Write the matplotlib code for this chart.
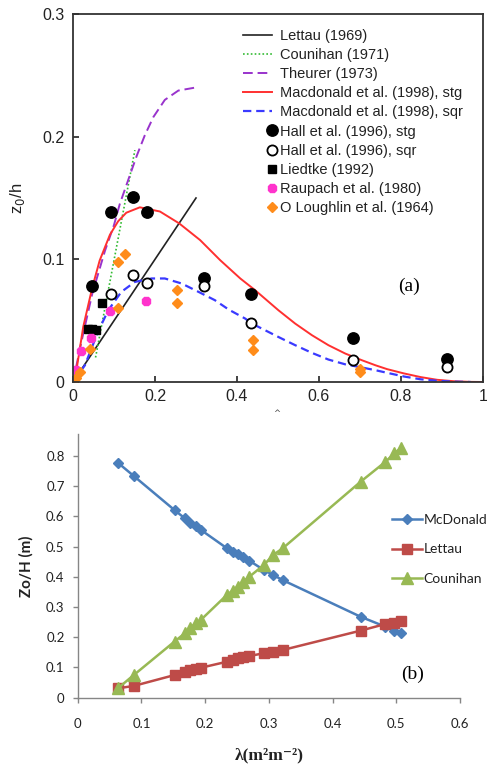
import matplotlib
matplotlib.use('Agg')
import matplotlib.pyplot as plt
from matplotlib.legend_handler import HandlerLine2D

plt.rcParams['lines.scale_dashes'] = False

# ---------------- Panel (a) data ----------------
lettau_x = [0.0, 0.3]
lettau_y = [0.0, 0.15]
counihan_x = [0.055, 0.151]
counihan_y = [0.020, 0.189]
theurer_x = [0.0, 0.02, 0.047, 0.078, 0.10, 0.114, 0.135, 0.155, 0.175, 0.196, 0.224, 0.257, 0.298]
theurer_y = [0.0, 0.032, 0.072, 0.107, 0.128, 0.145, 0.165, 0.184, 0.201, 0.216, 0.230, 0.2376, 0.240]
mac_stg_x = [0, 0.01, 0.025, 0.047, 0.065, 0.09, 0.11, 0.13, 0.163, 0.212, 0.259, 0.310, 0.359,
             0.408, 0.444, 0.501, 0.542, 0.583, 0.623, 0.664, 0.705, 0.738, 0.766, 0.807, 0.848,
             0.888, 0.93, 0.97, 1.0]
mac_stg_y = [0, 0.013, 0.045, 0.077, 0.099, 0.120, 0.131, 0.138, 0.1424, 0.139, 0.1293, 0.1157,
             0.0993, 0.0844, 0.0749, 0.0585, 0.0476, 0.0381, 0.030, 0.0232, 0.0177, 0.0136,
             0.0105, 0.007, 0.004, 0.0018, 0.0006, 0.0001, 0]
mac_sqr_x = [0, 0.029, 0.061, 0.086, 0.118, 0.151, 0.192, 0.224, 0.265, 0.306, 0.346, 0.38, 0.42,
             0.436, 0.501, 0.542, 0.583, 0.623, 0.664, 0.705, 0.738, 0.766, 0.807, 0.848, 0.888,
             0.93, 0.97]
mac_sqr_y = [0, 0.0136, 0.041, 0.0585, 0.0735, 0.0816, 0.0844, 0.0844, 0.0803, 0.0735, 0.0667,
             0.059, 0.0517, 0.0477, 0.0367, 0.030, 0.0237, 0.0183, 0.0144, 0.0118, 0.0096,
             0.0075, 0.0045, 0.0022, 0.001, 0.0003, 0]
hall_stg_x = [0.047, 0.092, 0.147, 0.181, 0.320, 0.433, 0.683, 0.912]
hall_stg_y = [0.078, 0.1385, 0.1505, 0.1385, 0.085, 0.072, 0.036, 0.0185]
hall_sqr_x = [0.092, 0.147, 0.181, 0.320, 0.434, 0.683, 0.911]
hall_sqr_y = [0.072, 0.087, 0.081, 0.078, 0.048, 0.018, 0.012]
liedtke_x = [0.037, 0.047, 0.057, 0.071]
liedtke_y = [0.0436, 0.0428, 0.042, 0.064]
raupach_x = [0.008, 0.019, 0.045, 0.090, 0.179]
raupach_y = [0.010, 0.025, 0.036, 0.058, 0.066]
oloughlin_x = [0.007, 0.016, 0.041, 0.110, 0.110, 0.126, 0.253, 0.253, 0.440, 0.440, 0.701, 0.701]
oloughlin_y = [0.003, 0.008, 0.027, 0.060, 0.098, 0.104, 0.0754, 0.064, 0.034, 0.026, 0.011, 0.008]

a_xticks = [0, 0.2, 0.4, 0.6, 0.8, 1.0]
a_xticklabels = ['0', '0.2', '0.4', '0.6', '0.8', '1']
a_yticks = [0, 0.1, 0.2, 0.3]
a_yticklabels = ['0', '0.1', '0.2', '0.3']

# ---------------- Panel (b) data ----------------
lam = [0.063, 0.088, 0.152, 0.168, 0.176, 0.185, 0.193, 0.234, 0.243, 0.251, 0.260, 0.269,
       0.292, 0.307, 0.322, 0.444, 0.483, 0.497, 0.507]
mcdonald = [0.778, 0.734, 0.621, 0.594, 0.578, 0.568, 0.556, 0.495, 0.484, 0.476, 0.467, 0.454,
            0.423, 0.406, 0.389, 0.268, 0.235, 0.222, 0.214]
lettau_b = [0.031, 0.039, 0.075, 0.086, 0.092, 0.094, 0.099, 0.119, 0.125, 0.130, 0.134, 0.138,
            0.147, 0.152, 0.158, 0.222, 0.244, 0.248, 0.254]
counihan_b = [0.031, 0.075, 0.186, 0.213, 0.230, 0.246, 0.257, 0.340, 0.354, 0.368, 0.384, 0.400,
              0.439, 0.473, 0.495, 0.715, 0.781, 0.809, 0.826]
b_xticks = [0, 0.1, 0.2, 0.3, 0.4, 0.5, 0.6]
b_xticklabels = ['0', '0.1', '0.2', '0.3', '0.4', '0.5', '0.6']
b_yticks = [0, 0.1, 0.2, 0.3, 0.4, 0.5, 0.6, 0.7, 0.8]
b_yticklabels = ['0', '0.1', '0.2', '0.3', '0.4', '0.5', '0.6', '0.7', '0.8']


class RightMarkerHandler(HandlerLine2D):
    def create_artists(self, legend, orig_handle, xdescent, ydescent, width, height, fontsize, trans):
        arts = super().create_artists(legend, orig_handle, xdescent, ydescent, width, height,
                                      fontsize, trans)
        for a in arts:
            if orig_handle.get_linestyle() in ('None', '', ' ', 'none'):
                a.set_markevery([2])
            else:
                a.set_markevery(None)
        return arts


W, H = 487, 766
fig = plt.figure(figsize=(W / 100, H / 100), dpi=100)

# ================= Panel (a) =================
sans = ['Liberation Sans', 'DejaVu Sans']
ax1 = fig.add_axes([73 / W, (H - 382) / H, 410 / W, 368 / H])
ax1.plot(lettau_x, lettau_y, color='#222222', lw=1.2, label='Lettau (1969)')
ax1.plot(counihan_x, counihan_y, color='#33bb33', lw=1.2, linestyle=(0, (1.2, 1.6)),
         label='Counihan (1971)')
ax1.plot(theurer_x, theurer_y, color='#9933cc', lw=1.4, linestyle=(0, (7, 3.5)),
         label='Theurer (1973)')
ax1.plot(mac_stg_x, mac_stg_y, color='#ff3030', lw=1.4, label='Macdonald et al. (1998), stg')
ax1.plot(mac_sqr_x, mac_sqr_y, color='#3a3aff', lw=1.6, linestyle=(0, (6, 3.5)),
         label='Macdonald et al. (1998), sqr')
ax1.plot(hall_stg_x, hall_stg_y, 'o', color='black', ms=8.2, ls='None',
         label='Hall et al. (1996), stg')
ax1.plot(hall_sqr_x, hall_sqr_y, 'o', mfc='white', mec='black', mew=1.3, ms=7.3, ls='None',
         label='Hall et al. (1996), sqr')
ax1.plot(liedtke_x, liedtke_y, 's', color='black', ms=6, ls='None', label='Liedtke (1992)')
ax1.plot(raupach_x, raupach_y, '8', color='#ff33cc', ms=6, ls='None',
         label='Raupach et al. (1980)')
ax1.plot(oloughlin_x, oloughlin_y, 'D', color='#ff8c1a', ms=5.5, ls='None',
         label='O Loughlin et al. (1964)')

ax1.set_xlim(0, 1)
ax1.set_ylim(0, 0.3)
ax1.set_xticks(a_xticks)
ax1.set_xticklabels(a_xticklabels)
ax1.set_yticks(a_yticks)
ax1.set_yticklabels(a_yticklabels)
ax1.tick_params(direction='in', length=4, width=1.2, labelsize=11.5, colors='#222222')
ax1.tick_params(axis='x', pad=5)
ax1.tick_params(axis='y', pad=6)
for lbl in ax1.get_xticklabels() + ax1.get_yticklabels():
    lbl.set_family(sans)
for s in ax1.spines.values():
    s.set_linewidth(1.3)
    s.set_color('#333333')
ax1.set_ylabel('z$_0$/h', family=sans, fontsize=12, color='#222222')
ax1.yaxis.set_label_coords(-(73 - 27) / 410, 0.5)

leg1 = ax1.legend(loc='upper left', bbox_to_anchor=((243 - 73) / 410, (382 - 29) / 368),
                  frameon=False, borderpad=0, borderaxespad=0, numpoints=1,
                  handlelength=2.0, handletextpad=0.55, labelspacing=0.35,
                  prop={'family': sans, 'size': 10.5},
                  handler_map={matplotlib.lines.Line2D: RightMarkerHandler()})
for t in leg1.get_texts():
    t.set_color('#222222')

ax1.text(0.82, 0.26, '(a)', transform=ax1.transAxes, ha='center', va='center',
         family=['Liberation Serif', 'DejaVu Serif'], fontsize=14)
fig.text(277 / W, 1 - 414 / H, '^', ha='center', va='center', fontsize=6, color='#444444')

# ================= Panel (b) =================
lato = ['Lato', 'DejaVu Sans']
ax2 = fig.add_axes([77.7 / W, (H - 697.7) / H, 382.3 / W, 263.7 / H])
ax2.plot(lam, mcdonald, '-D', color='#4a7ebb', lw=1.8, ms=5.5, label='McDonald')
ax2.plot(lam, lettau_b, '-s', color='#be4b48', lw=1.8, ms=7.5, label='Lettau')
ax2.plot(lam, counihan_b, '-^', color='#98b954', lw=1.8, ms=8.5, label='Counihan')
ax2.set_xlim(0, 0.6)
ax2.set_ylim(0, 0.873)
ax2.set_xticks(b_xticks)
ax2.set_xticklabels(b_xticklabels)
ax2.set_yticks(b_yticks)
ax2.set_yticklabels(b_yticklabels)
ax2.spines['top'].set_visible(False)
ax2.spines['right'].set_visible(False)
for s in ('left', 'bottom'):
    ax2.spines[s].set_color('#868686')
    ax2.spines[s].set_linewidth(1.0)
ax2.tick_params(axis='both', direction='out', length=3.5, width=1.0, color='#868686',
                labelsize=9.5, labelcolor='#222222')
ax2.tick_params(axis='x', pad=11)
ax2.tick_params(axis='y', pad=6)
for lbl in ax2.get_xticklabels() + ax2.get_yticklabels():
    lbl.set_family(lato)
ax2.set_ylabel('Zo/H (m)', family=lato, fontsize=11, fontweight='bold', color='#222222')
ax2.yaxis.set_label_coords(-(77.7 - 34) / 382.3, 0.5)
ax2.set_xlabel('λ(m²m⁻²)', family=['Liberation Serif', 'DejaVu Serif'], fontsize=12.5,
               fontweight='bold', color='#222222')
ax2.xaxis.set_label_coords(0.5, -(747 - 697.7) / 263.7)

leg2 = ax2.legend(loc='upper left', bbox_to_anchor=((391.7 - 77.7) / 382.3, (697.7 - 514) / 263.7),
                  frameon=False, borderpad=0, borderaxespad=0, numpoints=1,
                  handlelength=2.2, handletextpad=0.1, labelspacing=1.25,
                  prop={'family': lato, 'size': 10})
for t in leg2.get_texts():
    t.set_color('#222222')

ax2.text((413 - 77.7) / 382.3, (697.7 - 674) / 263.7, '(b)', transform=ax2.transAxes,
         ha='center', va='center', family=['Liberation Serif', 'DejaVu Serif'], fontsize=14)

fig.savefig('out.png', dpi=100)
